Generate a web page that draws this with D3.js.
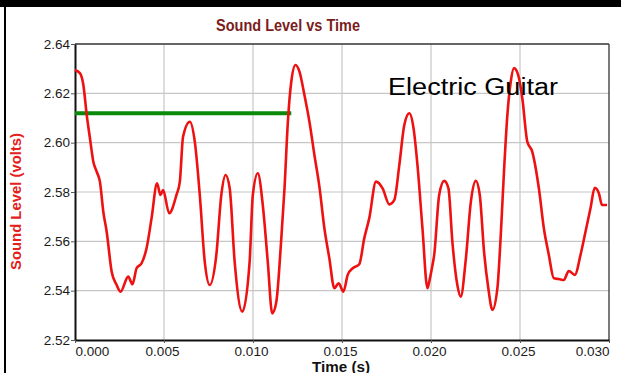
<!DOCTYPE html>
<html>
<head>
<meta charset="utf-8">
<script src="https://cdn.jsdelivr.net/npm/d3@7"></script>
<style>
  html, body { margin: 0; padding: 0; background: #fff; }
  svg { display: block; }
  text { font-family: "Liberation Sans", Arial, sans-serif; }
</style>
</head>
<body>
<svg id="chart" width="621" height="373"></svg>
<script>
// ---- data ----
const timeSec = [
  0, 0.00028, 0.00047, 0.00066, 0.00084, 0.00103, 0.00122, 0.00140, 0.00159, 0.00178,
  0.00206, 0.00234, 0.00256, 0.00299, 0.00323, 0.00346, 0.00374, 0.00402, 0.00430, 0.00461,
  0.00480, 0.00495, 0.00529, 0.00570, 0.00589, 0.00607, 0.00645, 0.00673, 0.00701, 0.00729,
  0.00757, 0.00794, 0.00822, 0.00846, 0.00869, 0.00897, 0.00940, 0.00981, 0.00999, 0.01027,
  0.01055, 0.01083, 0.01108, 0.01131, 0.01159, 0.01177, 0.01196, 0.01215, 0.01239, 0.01261,
  0.01289, 0.01317, 0.01345, 0.01373, 0.01401, 0.01429, 0.01457, 0.01481, 0.01508, 0.01532,
  0.01560, 0.01597, 0.01625, 0.01653, 0.01691, 0.01728, 0.01766, 0.01794, 0.01822, 0.01850,
  0.01878, 0.01902, 0.01924, 0.01952, 0.01980, 0.01990, 0.02005, 0.02018, 0.02046, 0.02074,
  0.02098, 0.02120, 0.02148, 0.02167, 0.02196, 0.02224, 0.02252, 0.02274, 0.02298, 0.02322,
  0.02345, 0.02373, 0.02392, 0.02410, 0.02429, 0.02448, 0.02466, 0.02490, 0.02513, 0.02541,
  0.02569, 0.02606, 0.02634, 0.02662, 0.02690, 0.02718, 0.02746, 0.02774, 0.02808, 0.02840,
  0.02868, 0.02896, 0.02920, 0.02943, 0.02961, 0.02989
];
const soundLevel = [
  2.6295, 2.6281, 2.6234, 2.6112, 2.6018, 2.5923, 2.5882, 2.5842, 2.5720, 2.5639,
  2.5477, 2.5423, 2.5396, 2.5457, 2.5426, 2.5491, 2.5511, 2.5572, 2.5693, 2.5835,
  2.5788, 2.5808, 2.5714, 2.5788, 2.5842, 2.6024, 2.6085, 2.6004, 2.5788, 2.5517,
  2.5423, 2.5545, 2.5788, 2.5869, 2.5815, 2.5517, 2.5315, 2.5517, 2.5788, 2.5876,
  2.5747, 2.5517, 2.5308, 2.5355, 2.5612, 2.5815, 2.6085, 2.6247, 2.6315, 2.6288,
  2.6193, 2.6085, 2.5950, 2.5822, 2.5653, 2.5531, 2.5410, 2.5430, 2.5396, 2.5464,
  2.5491, 2.5507, 2.5612, 2.5693, 2.5842, 2.5815, 2.5750, 2.5768, 2.5909, 2.6072,
  2.6119, 2.6058, 2.5909, 2.5653, 2.5410, 2.5436, 2.5491, 2.5545, 2.5788, 2.5845,
  2.5815, 2.5599, 2.5423, 2.5376, 2.5531, 2.5761, 2.5845, 2.5788, 2.5558, 2.5410,
  2.5322, 2.5410, 2.5626, 2.5882, 2.6112, 2.6247, 2.6302, 2.6274, 2.6180, 2.6004,
  2.5963, 2.5815, 2.5653, 2.5545, 2.5450, 2.5447, 2.5443, 2.5480, 2.5464, 2.5545,
  2.5639, 2.5734, 2.5817, 2.5795, 2.5747, 2.5747
];
const xTicks = [0, 0.005, 0.010, 0.015, 0.020, 0.025, 0.030];
const yTicks = [2.52, 2.54, 2.56, 2.58, 2.60, 2.62, 2.64];
const markerTime = [0, 0.01215];
const markerLevel = 2.6119;
const chartTitle = "Sound Level vs Time";
const xTitle = "Time (s)";
const yTitle = "Sound Level (volts)";
const annotation = "Electric Guitar";

// ---- layout ----
const svg = d3.select("#chart");
const L = 75, R = 609, T = 44, B = 340;

const x = d3.scaleLinear().domain([0, 0.030]).range([L, R]);
const y = d3.scaleLinear().domain([2.52, 2.64]).range([B, T]);

// outer frame
svg.append("rect").attr("x", 0).attr("y", 0).attr("width", 621).attr("height", 7).attr("fill", "#000");
svg.append("rect").attr("x", 4).attr("y", 0).attr("width", 2).attr("height", 373).attr("fill", "#000");

// title
svg.append("text")
  .attr("x", 288).attr("y", 30.5)
  .attr("text-anchor", "middle")
  .attr("font-size", 16.5).attr("font-weight", "bold")
  .attr("fill", "#7a1d1d")
  .attr("textLength", 144).attr("lengthAdjust", "spacingAndGlyphs")
  .text(chartTitle);

// gridlines
const grid = svg.append("g");
grid.selectAll("line.v").data(xTicks.filter(d => d > 0 && d < 0.030)).enter().append("line")
  .attr("x1", d => x(d)).attr("x2", d => x(d)).attr("y1", T).attr("y2", B)
  .attr("stroke", "#c6c6c6").attr("stroke-width", 1.2);
grid.selectAll("line.h").data(yTicks.filter(d => d > 2.52 && d < 2.64)).enter().append("line")
  .attr("x1", L).attr("x2", R).attr("y1", d => y(d)).attr("y2", d => y(d))
  .attr("stroke", "#c6c6c6").attr("stroke-width", 1.2);

// plot frame (top/right)
svg.append("line").attr("x1", L).attr("x2", R).attr("y1", T).attr("y2", T).attr("stroke", "#333").attr("stroke-width", 1.3);
svg.append("line").attr("x1", R).attr("x2", R).attr("y1", T).attr("y2", B).attr("stroke", "#333").attr("stroke-width", 1.3);

// axes
const yAxis = svg.append("g").attr("transform", `translate(${L},0)`)
  .call(d3.axisLeft(y).tickValues(yTicks).tickFormat(d3.format(".2f")).tickSizeInner(4).tickSizeOuter(0).tickPadding(1));
const xAxis = svg.append("g").attr("transform", `translate(0,${B})`)
  .call(d3.axisBottom(x).tickValues(xTicks).tickFormat(d3.format(".3f")).tickSizeInner(3).tickSizeOuter(0).tickPadding(3));
[yAxis, xAxis].forEach(g => {
  g.select(".domain").attr("stroke", "#111").attr("stroke-width", 2);
  g.selectAll(".tick line").attr("stroke", "#555");
  g.selectAll(".tick text").attr("font-size", 13.5).attr("fill", "#1a1a1a")
    .attr("font-family", "'Liberation Sans', Arial, sans-serif");
});
xAxis.selectAll(".tick text")
  .attr("text-anchor", (d, i) => i === 0 ? "start" : (i === xTicks.length - 1 ? "end" : "middle"))
  .attr("dx", (d, i) => (i === 0 || i === xTicks.length - 1) ? 0 : -2);

// axis titles
svg.append("text")
  .attr("transform", "translate(21,201.5) rotate(-90)")
  .attr("text-anchor", "middle")
  .attr("font-size", 14).attr("font-weight", "bold").attr("fill", "#e3201b")
  .attr("textLength", 137).attr("lengthAdjust", "spacingAndGlyphs")
  .text(yTitle);
svg.append("text")
  .attr("x", 341).attr("y", 371.5)
  .attr("text-anchor", "middle")
  .attr("font-size", 14).attr("font-weight", "bold").attr("fill", "#111")
  .attr("textLength", 58).attr("lengthAdjust", "spacingAndGlyphs")
  .text(xTitle);

// marker line (green)
svg.append("line")
  .attr("x1", x(markerTime[0])).attr("x2", x(markerTime[1]))
  .attr("y1", y(markerLevel)).attr("y2", y(markerLevel))
  .attr("stroke", "#0a8a0a").attr("stroke-width", 4);

// data line
const pts = timeSec.map((t, i) => [t, soundLevel[i]]);
svg.append("path")
  .datum(pts)
  .attr("fill", "none")
  .attr("stroke", "#ee1111")
  .attr("stroke-width", 2.6)
  .attr("stroke-linejoin", "round")
  .attr("d", d3.line().curve(d3.curveMonotoneX).x(d => x(d[0])).y(d => y(d[1])));

// annotation
svg.append("text")
  .attr("x", 388).attr("y", 95)
  .attr("font-size", 23.5).attr("fill", "#000")
  .attr("textLength", 170).attr("lengthAdjust", "spacingAndGlyphs")
  .text(annotation);
</script>
</body>
</html>
